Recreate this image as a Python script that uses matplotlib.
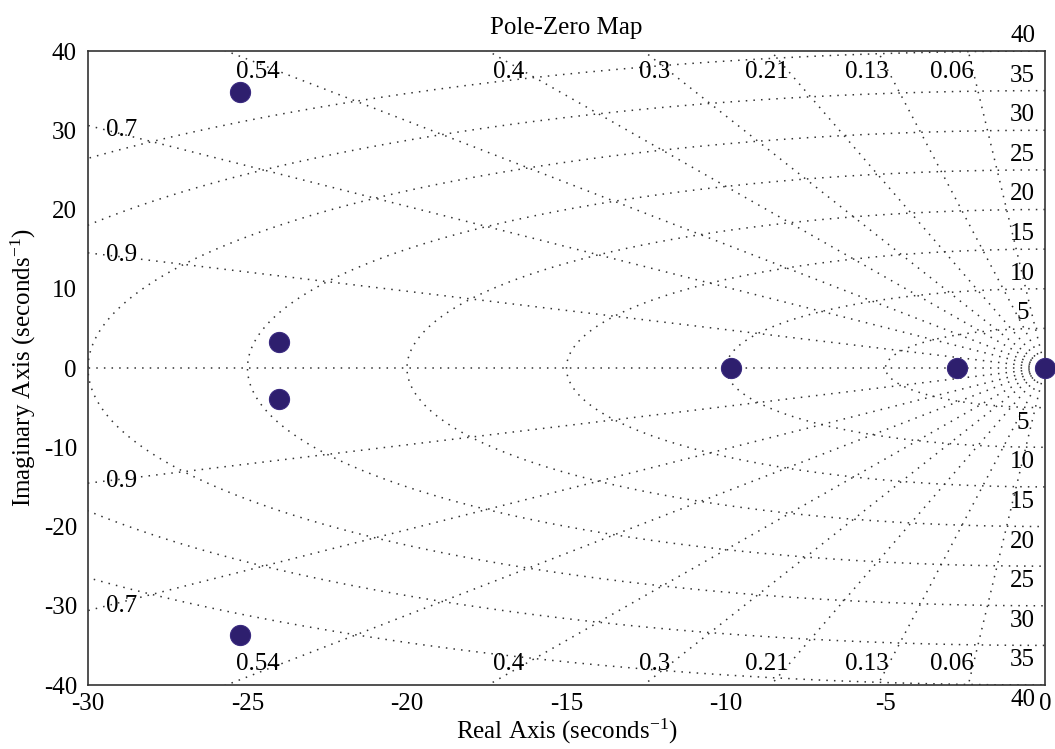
import numpy as np
import matplotlib
matplotlib.use('Agg')
import matplotlib.pyplot as plt

# ---- data ----
pole_re = [-25.25, -24.0, -24.0, -25.25, -9.85, -2.75, 0.0]
pole_im = [34.8, 3.3, -3.9, -33.7, 0.0, 0.0, 0.0]

zeta_vals = [0.06, 0.13, 0.21, 0.3, 0.4, 0.54, 0.7, 0.9]
zeta_labels = ['0.06', '0.13', '0.21', '0.3', '0.4', '0.54', '0.7', '0.9']
wn_vals = [5, 10, 15, 20, 25, 30, 35, 40]
wn_labels = ['5', '10', '15', '20', '25', '30', '35', '40']

xticks = [-30, -25, -20, -15, -10, -5, 0]
yticks = [-40, -30, -20, -10, 0, 10, 20, 30, 40]

plt.rcParams['font.family'] = ['Liberation Serif', 'DejaVu Serif']
plt.rcParams['mathtext.fontset'] = 'custom'
plt.rcParams['mathtext.rm'] = 'Liberation Serif'
plt.rcParams['mathtext.it'] = 'Liberation Serif:italic'
plt.rcParams['mathtext.bf'] = 'Liberation Serif:bold'

FS = 18
fig = plt.figure(figsize=(10.55, 7.49), dpi=100)
ax = fig.add_axes([0.0834, 0.0854, 0.9071, 0.8465])

grid_kw = dict(color='0.2', lw=1.1, ls=(0, (1, 4)), zorder=1)

# natural-frequency semicircles
t = np.linspace(np.pi / 2, 3 * np.pi / 2, 600)
for wn in wn_vals:
    ax.plot(wn * np.cos(t), wn * np.sin(t), **grid_kw)

# damping rays
r = np.array([0.0, 120.0])
for z in zeta_vals:
    s = np.sqrt(1 - z * z)
    ax.plot(-r * z, r * s, **grid_kw)
    ax.plot(-r * z, -r * s, **grid_kw)
ax.plot(-r, 0 * r, **grid_kw)

ax.set_xlim(-30, 0)
ax.set_ylim(-40, 40)

# damping labels
ylab = 37.4
xlab_left = -29.45
for z, lab in zip(zeta_vals, zeta_labels):
    s = np.sqrt(1 - z * z)
    xr = -ylab * z / s
    if xr > -30:
        for sgn in (1, -1):
            ax.text(xr, sgn * ylab, lab, ha='right', va='center', fontsize=FS, zorder=3)
    else:
        yv = -xlab_left * s / z
        for sgn in (1, -1):
            ax.text(xlab_left, sgn * yv, lab, ha='left', va='center', fontsize=FS, zorder=3)

# natural-frequency labels
for wn, lab in zip(wn_vals, wn_labels):
    for sgn in (1, -1):
        ax.text(-0.7, sgn * (wn + 1.9), lab, ha='center', va='center',
                fontsize=FS, clip_on=False, zorder=3)

# poles
ax.plot(pole_re, pole_im, 'o', ms=14.5, color='#2E1F6E', mec='#3A2A80', mew=0.8,
        zorder=5, clip_on=False)

ax.set_xticks(xticks)
ax.set_yticks(yticks)
ax.set_xticklabels([str(v) for v in xticks])
ax.set_yticklabels([str(v) for v in yticks])
ax.tick_params(axis='both', length=0, labelsize=FS)
ax.tick_params(axis='y', pad=8)
ax.tick_params(axis='x', pad=6)

for sp in ax.spines.values():
    sp.set_color('0.2')
    sp.set_linewidth(1.2)

ax.set_title('Pole-Zero Map', fontsize=FS, pad=12)
ax.set_xlabel('Real Axis (seconds$^{-1}$)', fontsize=FS, labelpad=1)
ax.set_ylabel('Imaginary Axis (seconds$^{-1}$)', fontsize=FS, labelpad=4)

fig.savefig('out.png', dpi=100)
